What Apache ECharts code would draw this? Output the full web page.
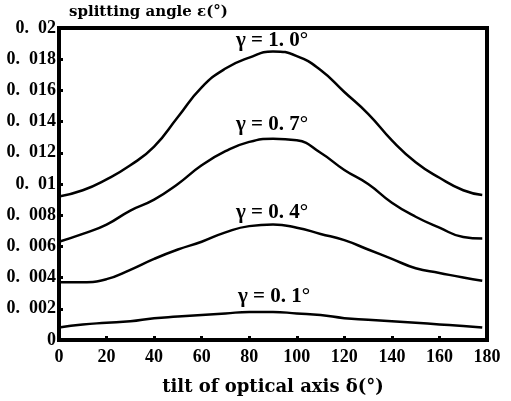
<!DOCTYPE html>
<html><head><meta charset="utf-8">
<script src="https://cdn.jsdelivr.net/npm/echarts@6/dist/echarts.min.js"></script>
<style>html,body{margin:0;padding:0;background:#fff}#c{width:511px;height:401px}</style>
</head><body><div id="c"></div>
<script>
var tilt = [0,10,20,30,40,50,60,70,80,90,100,110,120,130,140,150,160,170,178];
var g10 = [0.0092,0.0096,0.0103,0.0112,0.0124,0.0143,0.0162,0.0174,0.0181,0.0185,0.0182,0.0173,0.0159,0.0145,0.0128,0.0114,0.0104,0.0096,0.0093];
var g07 = [0.0063,0.0068,0.0074,0.0083,0.0090,0.0100,0.0112,0.0121,0.0127,0.0129,0.0128,0.0120,0.0109,0.0100,0.0088,0.0079,0.0072,0.0066,0.0065];
var g04 = [0.0037,0.0037,0.0039,0.0045,0.0052,0.0058,0.0063,0.0069,0.0073,0.0074,0.0072,0.0068,0.0064,0.0058,0.0052,0.0046,0.0043,0.0040,0.0038];
var g01 = [0.0008,0.0010,0.0011,0.0012,0.0014,0.0015,0.0016,0.0017,0.0018,0.0018,0.0017,0.0016,0.0014,0.0013,0.0012,0.0011,0.0010,0.0009,0.0008];
var seriesNames = ['γ = 1. 0°','γ = 0. 7°','γ = 0. 4°','γ = 0. 1°'];
var seriesData = [g10,g07,g04,g01];
var xTitle = 'tilt of optical axis δ(°)';
var yTitle = 'splitting angle ε(°)';

var font = '"Liberation Serif", "DejaVu Serif", serif';
var tfont = '"DejaVu Serif", "Liberation Serif", serif';
function pairs(arr){ return tilt.map(function(x,i){ return [x, arr[i]]; }); }
var labelPos = [[272,41],[272,125],[272,213],[274,297]];

var chart = echarts.init(document.getElementById('c'), null, {renderer:'canvas'});
chart.setOption({
  animation:false,
  backgroundColor:'#fff',
  grid:{left:59,right:24,top:28,bottom:61,show:true,borderColor:'#000',borderWidth:4,backgroundColor:'transparent'},
  xAxis:{type:'value',min:0,max:180,interval:20,
    axisLine:{show:true,lineStyle:{color:'#000',width:4}},
    axisTick:{show:true,inside:true,length:4,lineStyle:{color:'#000',width:3}},
    splitLine:{show:false},
    axisLabel:{color:'#000',fontFamily:font,fontWeight:'bold',fontSize:18,margin:8},
    name:xTitle,nameLocation:'middle',nameGap:38,
    nameTextStyle:{color:'#000',fontFamily:tfont,fontWeight:'bold',fontSize:18}
  },
  yAxis:{type:'value',min:0,max:0.02,interval:0.002,
    axisLine:{show:true,lineStyle:{color:'#000',width:4}},
    axisTick:{show:true,inside:true,length:4,lineStyle:{color:'#000',width:3}},
    splitLine:{show:false},
    axisLabel:{color:'#000',fontFamily:font,fontWeight:'bold',fontSize:18,margin:3,
      formatter:function(v){ var r = Math.round(v*1000)/1000; return String(r).replace('.', '.  '); }},
    name:yTitle,nameLocation:'end',nameGap:8,
    nameTextStyle:{color:'#000',fontFamily:tfont,fontWeight:'bold',fontSize:15,align:'left',padding:[0,0,0,10]}
  },
  series: seriesData.map(function(d,i){
    return {type:'line',name:seriesNames[i],data:pairs(d),smooth:0.5,showSymbol:false,
      lineStyle:{color:'#000',width:2.5},silent:true};
  }),
  graphic: seriesNames.map(function(n,i){
    return {type:'text',x:labelPos[i][0],y:labelPos[i][1],
      style:{text:n,fill:'#000',font:'bold 21px ' + font,align:'center',verticalAlign:'middle'}};
  })
});
</script></body></html>
